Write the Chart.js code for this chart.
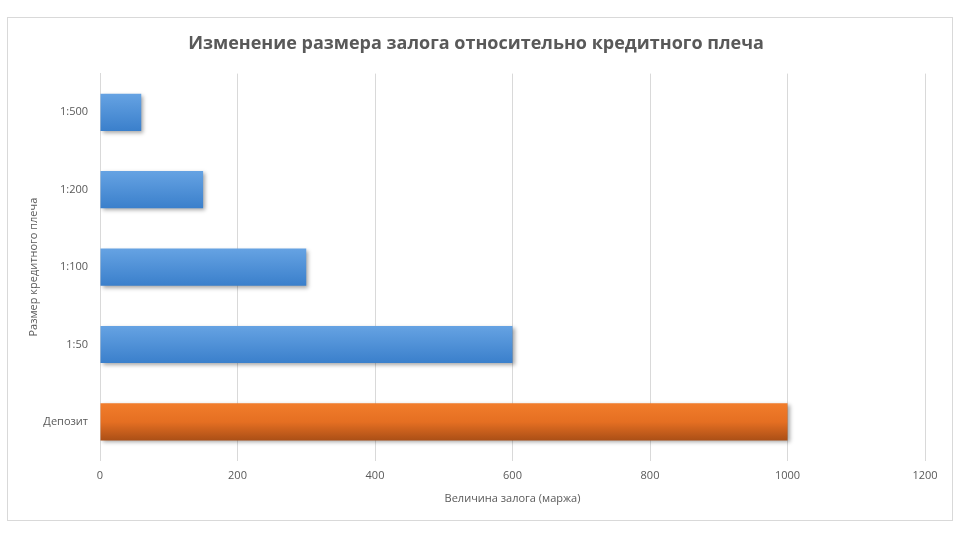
<!DOCTYPE html>
<html><head><meta charset="utf-8">
<script src="https://cdn.jsdelivr.net/npm/chart.js@4"></script>
<style>
html,body{margin:0;padding:0;background:#fff;}
#wrap{position:absolute;left:0;top:0;width:960px;height:540px;}
#frame{position:absolute;left:7px;top:17px;width:944px;height:502px;border:1px solid #d9d9d9;pointer-events:none;}
</style></head>
<body>
<div id="wrap"><canvas id="c" width="960" height="540"></canvas></div>
<div id="frame"></div>
<script>
const categories = ['1:500', '1:200', '1:100', '1:50', 'Депозит'];
const marginValues = [60, 150, 300, 600, 1000];
const xTicks = [0, 200, 400, 600, 800, 1000, 1200];
const chartTitle = 'Изменение размера залога относительно кредитного плеча';
const xTitle = 'Величина залога (маржа)';
const yTitle = 'Размер кредитного плеча';

const blueTop = '#66a3e3', blueBot = '#3a7fcb';
const orTop = '#f27d2b', orBot = '#a94e16';

function barFill(ctx) {
  const chart = ctx.chart;
  const ys = chart.scales && chart.scales.y;
  const isDep = categories[ctx.dataIndex] === 'Депозит';
  if (!ys || ys.top === undefined || isNaN(ys.getPixelForValue(ctx.dataIndex))) return isDep ? orTop : blueTop;
  const cy = ys.getPixelForValue(ctx.dataIndex);
  const g = chart.ctx.createLinearGradient(0, cy - 19, 0, cy + 19);
  if (isDep) { g.addColorStop(0, orTop); g.addColorStop(0.5, '#e56f22'); g.addColorStop(1, orBot); }
  else { g.addColorStop(0, blueTop); g.addColorStop(1, blueBot); }
  return g;
}

const shadowPlugin = {
  id: 'shadow',
  beforeDatasetsDraw(chart) {
    const c = chart.ctx; c.save();
    c.shadowColor = 'rgba(0,0,0,0.35)'; c.shadowBlur = 4; c.shadowOffsetX = 2; c.shadowOffsetY = 2;
  },
  afterDatasetsDraw(chart) { chart.ctx.restore(); }
};

new Chart(document.getElementById('c'), {
  type: 'bar',
  data: {
    labels: categories,
    datasets: [{
      data: marginValues,
      backgroundColor: barFill,
      borderWidth: 0,
      barPercentage: 0.8,
      categoryPercentage: 0.6
    }]
  },
  plugins: [shadowPlugin],
  options: {
    indexAxis: 'y',
    responsive: false,
    animation: false,
    devicePixelRatio: 1,
    layout: { padding: { left: 27, right: 35, top: 0, bottom: 35 } },
    plugins: {
      legend: { display: false },
      tooltip: { enabled: false },
      title: {
        display: true, text: chartTitle, color: '#595959',
        font: { family: 'Open Sans', size: 18, weight: 'bold' },
        padding: { top: 33, bottom: 19 }
      }
    },
    scales: {
      x: {
        min: 0, max: 1200,
        afterBuildTicks(scale) { scale.ticks = xTicks.map(v => ({ value: v })); },
        grid: { color: '#d9d9d9', drawTicks: false, lineWidth: 1 },
        border: { display: false },
        ticks: { color: '#595959', font: { family: 'Open Sans', size: 11 }, padding: 9, callback: v => String(v) },
        title: { display: true, text: xTitle, color: '#595959', font: { family: 'Open Sans', size: 11 }, padding: { top: 0, bottom: 0 } }
      },
      y: {
        grid: { display: false },
        border: { display: true, color: '#d9d9d9' },
        ticks: { color: '#595959', font: { family: 'Open Sans', size: 11 }, padding: 4 },
        title: { display: true, text: yTitle, color: '#595959', font: { family: 'Open Sans', size: 11 }, padding: { top: 0, bottom: 4 } },
        afterFit(scale) { scale.width = 73; }
      }
    }
  }
});
</script>
</body></html>
